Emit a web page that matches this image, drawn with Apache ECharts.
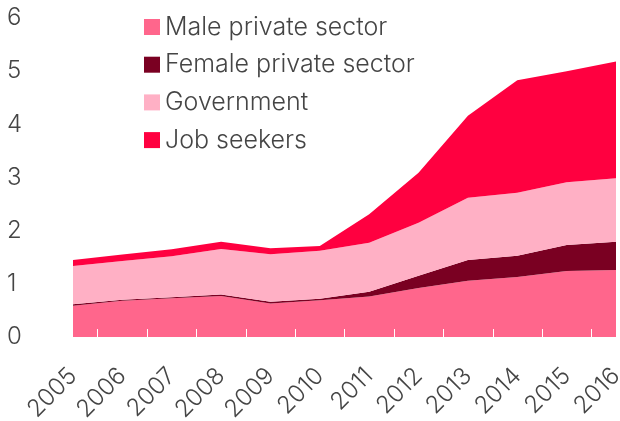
<!DOCTYPE html>
<html>
<head>
<meta charset="utf-8">
<script src="https://cdn.jsdelivr.net/npm/echarts@6/dist/echarts.min.js"></script>
<style>
  html, body { margin: 0; padding: 0; background: #ffffff; }
  #chart { width: 620px; height: 421px; }
</style>
</head>
<body>
<div id="chart"></div>
<script>
// Workforce composition by year (millions), stacked
const years = ['2005', '2006', '2007', '2008', '2009', '2010', '2011', '2012', '2013', '2014', '2015', '2016'];
const malePrivate   = [0.59, 0.68, 0.73, 0.77, 0.63, 0.69, 0.76, 0.92, 1.06, 1.13, 1.24, 1.26];
const femalePrivate = [0.025, 0.02, 0.02, 0.03, 0.035, 0.03, 0.09, 0.23, 0.39, 0.40, 0.49, 0.53];
const government    = [0.72, 0.73, 0.77, 0.855, 0.89, 0.90, 0.925, 1.00, 1.17, 1.185, 1.18, 1.195];
const jobSeekers    = [0.113, 0.12, 0.13, 0.135, 0.115, 0.09, 0.535, 0.94, 1.54, 2.115, 2.09, 2.195];
const yTicks = [0, 1, 2, 3, 4, 5, 6];

// Small white notches sit between neighbouring years
const yearBreaks = years.slice(1);

const FONT = 'Inter, Roboto, sans-serif';
const TEXT = '#454545';

const chart = echarts.init(document.getElementById('chart'), null, { renderer: 'canvas' });

function layer(name, data, color) {
  return {
    name: name,
    type: 'line',
    stack: 'total',
    data: data,
    symbol: 'none',
    smooth: false,
    lineStyle: { width: 0 },
    areaStyle: { color: color, opacity: 1 },
    itemStyle: { color: color },
    emphasis: { disabled: true },
    animation: false
  };
}

chart.setOption({
  animation: false,
  backgroundColor: '#ffffff',
  textStyle: { fontFamily: FONT },
  legend: {
    orient: 'vertical',
    left: 144,
    top: 14,
    padding: 0,
    icon: 'rect',
    itemWidth: 16,
    itemHeight: 16,
    itemGap: 11.7,
    textStyle: { fontFamily: FONT, fontSize: 25, fontWeight: 300, color: TEXT, lineHeight: 26 },
    data: ['Male private sector', 'Female private sector', 'Government', 'Job seekers']
  },
  grid: [
    { left: 73, right: 4, top: 18, bottom: 84, outerBoundsMode: 'none', containLabel: false },
    { left: 97.7, right: 28.3, top: 18, bottom: 84, outerBoundsMode: 'none', containLabel: false }
  ],
  xAxis: [
    {
      type: 'category',
      gridIndex: 0,
      data: years,
      boundaryGap: false,
      axisLine: { show: false },
      axisTick: { show: false },
      splitLine: { show: false },
      axisLabel: {
        rotate: 45,
        margin: 35,
        interval: 0,
        fontFamily: FONT,
        fontSize: 24,
        fontWeight: 300,
        color: TEXT
      }
    },
    {
      type: 'category',
      gridIndex: 1,
      data: yearBreaks,
      boundaryGap: false,
      z: 10,
      axisLine: { show: false },
      axisLabel: { show: false },
      splitLine: { show: false },
      axisTick: {
        show: true,
        inside: true,
        length: 8,
        interval: 0,
        lineStyle: { color: '#ffffff', width: 1 }
      }
    }
  ],
  yAxis: [
    {
      type: 'value',
      gridIndex: 0,
      min: yTicks[0],
      max: yTicks[yTicks.length - 1],
      interval: 1,
      axisLine: { show: false },
      axisTick: { show: false },
      splitLine: { show: false },
      axisLabel: {
        align: 'left',
        margin: 66,
        fontFamily: FONT,
        fontSize: 24,
        fontWeight: 300,
        color: TEXT
      }
    },
    {
      type: 'value',
      gridIndex: 1,
      min: 0,
      max: 6,
      show: false
    }
  ],
  series: [
    layer('Male private sector', malePrivate, '#ff668c'),
    layer('Female private sector', femalePrivate, '#7a0022'),
    layer('Government', government, '#ffb0c5'),
    layer('Job seekers', jobSeekers, '#ff0040')
  ]
});
</script>
</body>
</html>
